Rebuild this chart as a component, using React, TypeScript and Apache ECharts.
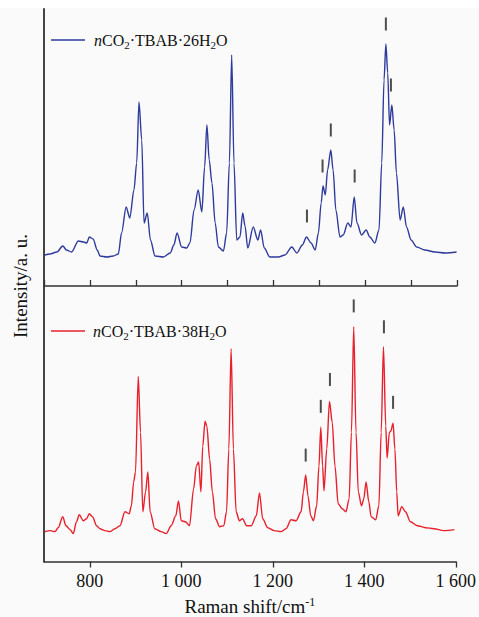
import React, { useEffect, useRef } from "react";
import * as echarts from "echarts";

// Top spectrum: nCO2·TBAB·26H2O
const topWave = [702, 713, 728, 741, 749, 760, 775, 786, 793, 799, 807, 816, 822, 837, 851, 862, 869, 879, 887, 896, 902, 907, 913, 918, 925, 932, 942, 960, 975, 983, 990, 1000, 1011, 1018, 1027, 1036, 1044, 1050, 1055, 1060, 1066, 1073, 1080, 1091, 1098, 1104, 1109, 1114, 1120, 1127, 1133, 1138, 1144, 1156, 1166, 1172, 1180, 1192, 1211, 1225, 1240, 1251, 1263, 1272, 1282, 1291, 1298, 1304, 1308, 1313, 1318, 1325, 1330, 1336, 1345, 1352, 1362, 1369, 1376, 1382, 1392, 1402, 1410, 1421, 1430, 1436, 1441, 1445, 1449, 1453, 1458, 1463, 1468, 1476, 1483, 1490, 1500, 1512, 1530, 1552, 1574, 1599];
const topIntensity = [31, 32, 34, 40, 36, 34, 45, 44, 43, 49, 47, 36, 30, 29, 30, 32, 53, 79, 68, 96, 123, 184, 146, 63, 73, 46, 30, 29, 33, 41, 53, 39, 38, 43, 76, 96, 74, 119, 161, 126, 103, 63, 39, 35, 53, 123, 231, 123, 46, 49, 73, 60, 38, 59, 46, 56, 38, 29, 29, 31, 39, 33, 41, 49, 43, 36, 53, 83, 100, 91, 116, 136, 116, 76, 49, 51, 63, 59, 89, 63, 51, 56, 49, 43, 56, 123, 206, 242, 213, 161, 181, 156, 113, 66, 79, 59, 46, 39, 36, 34, 33, 34];

// Bottom spectrum: nCO2·TBAB·38H2O
const bottomWave = [702, 713, 724, 731, 741, 748, 757, 764, 771, 777, 786, 793, 799, 806, 815, 822, 833, 844, 855, 866, 877, 886, 891, 896, 900, 906, 911, 916, 922, 927, 932, 942, 956, 967, 978, 988, 994, 1000, 1009, 1018, 1027, 1033, 1038, 1043, 1047, 1052, 1056, 1062, 1068, 1075, 1084, 1093, 1099, 1104, 1109, 1114, 1120, 1127, 1134, 1143, 1153, 1164, 1171, 1178, 1189, 1203, 1218, 1229, 1240, 1251, 1262, 1267, 1272, 1277, 1283, 1289, 1296, 1301, 1305, 1309, 1312, 1318, 1324, 1330, 1336, 1343, 1352, 1360, 1367, 1372, 1377, 1382, 1387, 1394, 1399, 1404, 1410, 1415, 1425, 1432, 1437, 1442, 1447, 1450, 1455, 1458, 1463, 1467, 1471, 1474, 1482, 1490, 1501, 1516, 1534, 1552, 1574, 1597];
const bottomIntensity = [30, 31, 30, 34, 45, 36, 32, 28, 40, 47, 41, 43, 48, 45, 36, 33, 31, 30, 33, 36, 50, 48, 56, 80, 90, 186, 130, 50, 70, 90, 50, 33, 30, 28, 36, 46, 61, 41, 40, 36, 73, 96, 100, 70, 116, 141, 136, 103, 70, 43, 35, 36, 50, 113, 214, 113, 50, 41, 43, 36, 36, 46, 69, 43, 34, 31, 30, 33, 42, 41, 50, 70, 87, 66, 46, 41, 56, 96, 135, 96, 71, 113, 161, 140, 96, 58, 53, 50, 63, 130, 236, 130, 70, 56, 63, 80, 60, 45, 42, 56, 130, 216, 136, 104, 130, 131, 139, 113, 70, 46, 55, 50, 40, 36, 34, 33, 31, 32];

// Peak marker bars (position, intensity of bar centre)
const topMarkWave = [1273, 1307, 1325, 1377, 1445, 1456];
const topMarkIntensity = [70, 120, 156, 110, 262, 201];
const bottomMarkWave = [1272, 1305, 1325, 1377, 1443, 1463];
const bottomMarkIntensity = [107, 156, 183, 257, 236, 160];

const xTickLabels = [800, 1000, 1200, 1400, 1600];

const topName = "nCO2·TBAB·26H2O";
const bottomName = "nCO2·TBAB·38H2O";

const SERIF = '"Liberation Serif", "Times New Roman", "DejaVu Serif", serif';

function fmtThousands(v: number): string {
  const s = String(v);
  return s.length > 3 ? s.slice(0, s.length - 3) + " " + s.slice(s.length - 3) : s;
}

export default function App() {
  const ref = useRef<HTMLDivElement>(null);
  useEffect(() => {
    if (!ref.current) return;
    const chart = echarts.init(ref.current, null, { renderer: "svg" });
    const zip = (a: number[], b: number[]) => a.map((v, i) => [v, b[i]]);
    const richLegend = {
      n: { fontFamily: SERIF, fontSize: 16, fontStyle: "italic", lineHeight: 20, verticalAlign: "middle", fill: "#111" },
      t: { fontFamily: SERIF, fontSize: 16, lineHeight: 20, fill: "#111" },
      s: { fontFamily: SERIF, fontSize: 11, lineHeight: 10, verticalAlign: "bottom", fill: "#111" },
    };
    const legendText = (num: string) => `{n|n}{t|CO}{s|2}{t|·TBAB·${num}H}{s|2}{t|O}`;
    const blue = "#2e3a9c";
    const red = "#e8202c";
    const axisColor = "#333";
    chart.setOption({
      animation: false,
      backgroundColor: "#fafafa",
      grid: [
        { left: 44, right: 22, top: 1, height: 277 },
        { left: 44, right: 22, top: 278, height: 277 },
      ],
      xAxis: [
        {
          gridIndex: 0,
          type: "value",
          min: 700,
          max: 1600,
          interval: 100,
          axisLine: { show: true, onZero: false, lineStyle: { color: axisColor, width: 1.5 } },
          axisTick: { show: true, inside: true, length: 6, lineStyle: { color: axisColor, width: 1.3 } },
          axisLabel: { show: false },
          splitLine: { show: false },
        },
        {
          gridIndex: 1,
          type: "value",
          min: 700,
          max: 1600,
          interval: 100,
          axisLine: { show: true, onZero: false, lineStyle: { color: axisColor, width: 1.5 } },
          axisTick: { show: true, inside: false, length: 6, customValues: xTickLabels, lineStyle: { color: axisColor, width: 1.3 } },
          axisLabel: {
            show: true,
            customValues: xTickLabels,
            margin: 10,
            fontFamily: SERIF,
            fontSize: 18,
            color: "#111",
            formatter: (v: number) => fmtThousands(v),
          },
          splitLine: { show: false },
          name: "{t|Raman shift/cm}{u|-1}",
          nameLocation: "middle",
          nameGap: 34,
          nameTextStyle: {
            rich: {
              t: { fontFamily: SERIF, fontSize: 19, lineHeight: 22, color: "#111" },
              u: { fontFamily: SERIF, fontSize: 12, lineHeight: 12, verticalAlign: "top", color: "#111" },
            },
          },
        },
      ],
      yAxis: [
        {
          gridIndex: 0,
          type: "value",
          min: 0,
          max: 277,
          axisLine: { show: true, lineStyle: { color: "#444", width: 2 } },
          axisTick: { show: false },
          axisLabel: { show: false },
          splitLine: { show: false },
        },
        {
          gridIndex: 1,
          type: "value",
          min: 0,
          max: 277,
          axisLine: { show: true, lineStyle: { color: "#444", width: 2 } },
          axisTick: { show: false },
          axisLabel: { show: false },
          splitLine: { show: false },
        },
      ],
      series: [
        {
          name: topName,
          type: "line",
          xAxisIndex: 0,
          yAxisIndex: 0,
          data: zip(topWave, topIntensity),
          symbol: "none",
          smooth: 0.3,
          smoothMonotone: "x",
          lineStyle: { color: blue, width: 1.4 },
        },
        {
          name: bottomName,
          type: "line",
          xAxisIndex: 1,
          yAxisIndex: 1,
          data: zip(bottomWave, bottomIntensity),
          symbol: "none",
          smooth: 0.3,
          smoothMonotone: "x",
          lineStyle: { color: red, width: 1.4 },
        },
        {
          type: "scatter",
          xAxisIndex: 0,
          yAxisIndex: 0,
          data: zip(topMarkWave, topMarkIntensity),
          symbol: "rect",
          symbolSize: [2, 13],
          itemStyle: { color: "#222" },
          silent: true,
        },
        {
          type: "scatter",
          xAxisIndex: 1,
          yAxisIndex: 1,
          data: zip(bottomMarkWave, bottomMarkIntensity),
          symbol: "rect",
          symbolSize: [2, 13],
          itemStyle: { color: "#222" },
          silent: true,
        },
      ],
      graphic: [
        { type: "line", shape: { x1: 51, y1: 32, x2: 85, y2: 32 }, style: { stroke: blue, lineWidth: 1.5 } },
        {
          type: "text",
          x: 94,
          y: 32,
          style: { text: legendText("26"), rich: richLegend, textVerticalAlign: "middle", verticalAlign: "middle" },
        },
        { type: "line", shape: { x1: 51, y1: 323, x2: 85, y2: 323 }, style: { stroke: red, lineWidth: 1.5 } },
        {
          type: "text",
          x: 93,
          y: 323,
          style: { text: legendText("38"), rich: richLegend, textVerticalAlign: "middle", verticalAlign: "middle" },
        },
        {
          type: "text",
          x: 20,
          y: 278,
          rotation: Math.PI / 2,
          style: {
            text: "Intensity/a. u.",
            fontFamily: SERIF,
            fontSize: 19,
            fill: "#111",
            align: "center",
            verticalAlign: "middle",
          },
        },
      ],
    });
    return () => chart.dispose();
  }, []);
  return (
    <div
      ref={ref}
      style={{ position: "fixed", top: 8, left: 0, width: 479, height: 609 }}
    />
  );
}
